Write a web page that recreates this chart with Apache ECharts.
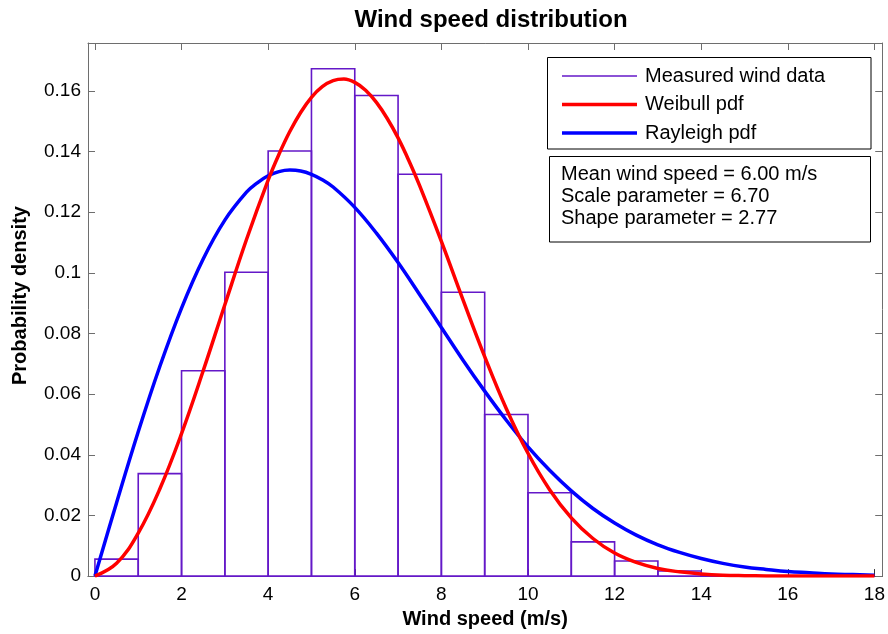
<!DOCTYPE html>
<html>
<head>
<meta charset="utf-8">
<script src="https://cdn.jsdelivr.net/npm/echarts@6/dist/echarts.min.js"></script>
<style>html,body{margin:0;padding:0;background:#fff}#c{width:888px;height:634px}</style>
</head>
<body>
<div id="c"></div>
<script>
// ---- data ----
const binLeft  = [0,1,2,3,4,5,6,7,8,9,10,11,12,13,14,15,16,17];
const binRight = [1,2,3,4,5,6,7,8,9,10,11,12,13,14,15,16,17,18];
const measuredDensity = [0.0056,0.0338,0.0677,0.1002,0.1402,0.1673,0.1585,0.1325,0.0936,0.0533,0.0275,0.0113,0.0050,0.0017,0.0004,0.0001,0.0000,0.0000];

const weibullSpeed = [0,0.5,1,1.5,2,2.5,3,3.5,4,4.25,4.5,4.75,5,5.25,5.5,5.75,6,6.25,6.5,6.75,7,7.25,7.5,8,8.5,9,9.5,10,10.5,11,11.5,12,12.5,13,13.5,14,14.5,15,15.5,16,16.5,17,17.5,18];
const weibullPdf = [0,0.0042,0.0142,0.0288,0.0470,0.0677,0.0895,0.1110,0.1306,0.1391,0.1466,0.1529,0.1579,0.1614,0.1634,0.1639,0.1628,0.1602,0.1562,0.1509,0.1445,0.1370,0.1287,0.1104,0.0911,0.0724,0.0552,0.0405,0.0285,0.0192,0.0124,0.0076,0.0045,0.0025,0.0014,0.0007,0.0003,0.00015,0.00007,0.00003,0.00001,0,0,0];

const rayleighSpeed = [0,0.5,1,1.5,2,2.5,3,3.5,3.75,4,4.25,4.5,4.75,5,5.25,5.5,6,6.5,7,7.5,8,8.5,9,9.5,10,10.5,11,11.5,12,12.5,13,13.5,14,14.5,15,15.5,16,16.5,17,17.5,18];
const rayleighPdf = [0,0.0242,0.0476,0.0692,0.0884,0.1046,0.1174,0.1266,0.1297,0.1320,0.1334,0.1339,0.1336,0.1325,0.1307,0.1283,0.1216,0.1131,0.1034,0.0928,0.0820,0.0712,0.0610,0.0514,0.0426,0.0349,0.0281,0.0223,0.0175,0.0135,0.0103,0.0078,0.0058,0.0042,0.0030,0.0022,0.0015,0.0011,0.0007,0.0005,0.0003];

const xTicks = [0,2,4,6,8,10,12,14,16,18];
const yTicks = [0,0.02,0.04,0.06,0.08,0.1,0.12,0.14,0.16];
const infoLines = ['Mean wind speed = 6.00 m/s','Scale parameter = 6.70','Shape parameter = 2.77'];

// ---- build ----
const histData = binLeft.map((l,i)=>[l, binRight[i], measuredDensity[i]]);
const weibullData = weibullSpeed.map((x,i)=>[x, weibullPdf[i]]);
const rayleighData = rayleighSpeed.map((x,i)=>[x, rayleighPdf[i]]);

const FONT = 'Liberation Sans, Arial, sans-serif';
const histColor = '#6418c8';
const frameColor = '#6e6e6e';

const chart = echarts.init(document.getElementById('c'), null, {renderer:'canvas'});
chart.setOption({
  animation: false,
  backgroundColor: '#fff',
  title: {
    text: 'Wind speed distribution',
    left: 486, top: 3, textAlign: 'center',
    textStyle: {fontFamily: FONT, fontSize: 24, fontWeight: 'bold', color: '#000'}
  },
  grid: {left: 88, right: 4, top: 43, bottom: 54, containLabel: false},
  xAxis: [{
    type: 'value', min: -0.16, max: 18.18, position: 'bottom',
    name: 'Wind speed (m/s)', nameLocation: 'middle', nameGap: 32,
    nameTextStyle: {fontFamily: FONT, fontSize: 20, fontWeight: 'bold', color: '#000'},
    axisLine: {show: true, onZero: false, lineStyle: {color: '#333', width: 1}},
    axisTick: {show: true, inside: true, length: 7, customValues: xTicks, lineStyle: {color: '#333'}},
    axisLabel: {show: true, customValues: xTicks, margin: 9, fontFamily: FONT, fontSize: 19, color: '#000'},
    splitLine: {show: false}
  },{
    type: 'value', min: -0.16, max: 18.18, position: 'top',
    axisLine: {show: true, onZero: false, lineStyle: {color: frameColor, width: 1}},
    axisTick: {show: true, inside: true, length: 7, customValues: xTicks, lineStyle: {color: frameColor}},
    axisLabel: {show: false},
    splitLine: {show: false}
  }],
  yAxis: [{
    type: 'value', min: 0, max: 0.1758, position: 'left',
    name: 'Probability density', nameLocation: 'middle', nameGap: 58,
    nameTextStyle: {fontFamily: FONT, fontSize: 20, fontWeight: 'bold', color: '#000', padding: [0,0,0,28]},
    axisLine: {show: true, onZero: false, lineStyle: {color: frameColor, width: 1}},
    axisTick: {show: true, inside: true, length: 7, customValues: yTicks, lineStyle: {color: frameColor}},
    axisLabel: {show: true, customValues: yTicks, margin: 7, fontFamily: FONT, fontSize: 19, color: '#000'},
    splitLine: {show: false}
  },{
    type: 'value', min: 0, max: 0.1758, position: 'right',
    axisLine: {show: true, onZero: false, lineStyle: {color: frameColor, width: 1}},
    axisTick: {show: true, inside: true, length: 7, customValues: yTicks, lineStyle: {color: frameColor}},
    axisLabel: {show: false},
    splitLine: {show: false}
  }],
  legend: {
    left: 562, top: 66, orient: 'vertical', padding: 0,
    itemWidth: 75, itemHeight: 18, itemGap: 8.5,
    selectedMode: false,
    itemStyle: {borderWidth: 0},
    textStyle: {fontFamily: FONT, fontSize: 20, color: '#000', lineHeight: 18, padding: [0,0,0,3]},
    data: [
      {name: 'Measured wind data', icon: 'path://M0,0H75V1.5H0Z', itemStyle: {color: histColor, borderWidth: 0}},
      {name: 'Weibull pdf', icon: 'path://M0,0H75V3.5H0Z', itemStyle: {color: '#ff0000', borderWidth: 0}},
      {name: 'Rayleigh pdf', icon: 'path://M0,0H75V3.5H0Z', itemStyle: {color: '#0000ff', borderWidth: 0}}
    ]
  },
  graphic: [
    {type: 'rect', z: 1, shape: {x: 547.5, y: 57.5, width: 323.5, height: 91.5}, style: {fill: '#fff', stroke: '#000', lineWidth: 1}},
    {type: 'rect', z: 1, shape: {x: 549.5, y: 156.5, width: 321, height: 85.5}, style: {fill: '#fff', stroke: '#000', lineWidth: 1}},
    {type: 'text', z: 5, left: 561, top: 163, style: {text: infoLines.join('\n'), fontFamily: FONT, fontSize: 20, lineHeight: 22, fill: '#000'}}
  ],
  series: [
    {
      name: 'Measured wind data', type: 'custom', xAxisIndex: 0, yAxisIndex: 0, z: 2,
      itemStyle: {color: histColor},
      encode: {x: [0,1], y: 2},
      data: histData,
      renderItem: function(params, api){
        const top = api.coord([api.value(0), api.value(2)]);
        const bot = api.coord([api.value(1), 0]);
        return {type: 'rect', shape: {x: top[0], y: top[1], width: bot[0]-top[0], height: bot[1]-top[1]},
          style: {fill: null, stroke: histColor, lineWidth: 1.6}};
      }
    },
    {
      name: 'Weibull pdf', type: 'line', xAxisIndex: 0, yAxisIndex: 0, z: 4,
      data: weibullData, smooth: 0.4, symbol: 'none', showSymbol: false,
      itemStyle: {color: '#ff0000'},
      lineStyle: {color: '#ff0000', width: 3.5}
    },
    {
      name: 'Rayleigh pdf', type: 'line', xAxisIndex: 0, yAxisIndex: 0, z: 3,
      data: rayleighData, smooth: 0.4, symbol: 'none', showSymbol: false,
      itemStyle: {color: '#0000ff'},
      lineStyle: {color: '#0000ff', width: 3.5}
    }
  ]
});
</script>
</body>
</html>
